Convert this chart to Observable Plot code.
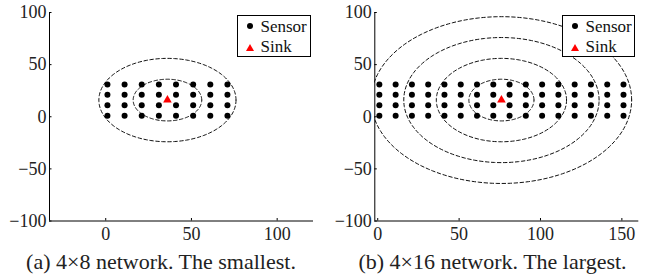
<!DOCTYPE html>
<html>
<head>
<meta charset="utf-8">
<script src="https://cdn.jsdelivr.net/npm/d3@7"></script>
<script src="https://cdn.jsdelivr.net/npm/@observablehq/plot@0.6"></script>
<style>
  html, body { margin: 0; padding: 0; background: #fff; }
  #page { position: relative; width: 649px; height: 274px; overflow: hidden; background: #fff; font-family: "Liberation Serif", "Times New Roman", Times, "DejaVu Serif", serif; }
  .panel { position: absolute; top: 0; }
  .caption { position: absolute; top: 251px; font-size: 22px; line-height: 22px; white-space: nowrap; transform: translateX(-50%); color: #222; }
  .legend { position: absolute; top: 15px; height: 40px; border: 1px solid #000; background: #fff; font-size: 17px; }
  .legend .row { position: absolute; left: 22.5px; line-height: 17px; white-space: nowrap; color: #111; }
  .legend .dot { position: absolute; width: 6px; height: 6px; border-radius: 50%; background: #000; }
  .legend .tri { position: absolute; width: 0; height: 0; border-left: 4px solid transparent; border-right: 4px solid transparent; border-bottom: 7px solid #ff0000; }
</style>
</head>
<body>
<div id="page"></div>
<script>
// ---- data ----
const sensorY = [1, 11, 21, 31];
const sensorXA = [1, 11, 21, 31, 41, 51, 61, 71];
const sensorXB = [1, 11, 21, 31, 41, 51, 61, 71, 81, 91, 101, 111, 121, 131, 141, 151];
const sinkA = [{x: 36, y: 16}];
const sinkB = [{x: 76, y: 16}];
const radiiA = [20, 40];
const radiiB = [20, 40, 60, 80];
const xTicksA = [0, 50, 100];
const xTicksB = [0, 50, 100, 150];
const yTicks = [-100, -50, 0, 50, 100];
const xDomainA = [-32.8, 121.2];
const xDomainB = [-1.8, 160.4];
const yDomain = [-100, 100];
const captionA = "(a) 4×8 network. The smallest.";
const captionB = "(b) 4×16 network. The largest.";
const legendLabels = ["Sensor", "Sink"];

// ---- build tables ----
function grid(xs, ys) {
  const out = [];
  for (const x of xs) for (const y of ys) out.push({x, y});
  return out;
}
function rings(center, radii) {
  const out = [];
  for (const r of radii) {
    for (let a = 0; a <= 360; a += 2) {
      const t = a * Math.PI / 180;
      out.push({r, x: center.x + r * Math.cos(t), y: center.y + r * Math.sin(t)});
    }
  }
  return out;
}
const fmt = d => String(d).replace("-", "−");
const FONT = "'Liberation Serif', 'Times New Roman', Times, 'DejaVu Serif', serif";

function panel({xs, sink, radii, xTicks, xDomain, width, marginLeft, marginRight}) {
  return Plot.plot({
    width, height: 245,
    marginLeft, marginRight, marginTop: 12, marginBottom: 24.5,
    style: {fontFamily: FONT, fontSize: "18px", color: "#222", background: "transparent"},
    x: {domain: xDomain, label: null},
    y: {domain: yDomain, label: null},
    marks: [
      Plot.line(rings(sink[0], radii), {x: "x", y: "y", z: "r", stroke: "#111", strokeWidth: 1, strokeDasharray: "3.5,2.5", clip: true}),
      Plot.dot(grid(xs, sensorY), {x: "x", y: "y", r: 3, fill: "#000", stroke: null}),
      Plot.dot(sink, {x: "x", y: "y", symbol: "triangle", r: 3.2, fill: "#ff0000", stroke: null}),
      Plot.ruleX([xDomain[0]], {stroke: "#000", strokeWidth: 1}),
      Plot.ruleY([yDomain[0]], {stroke: "#000", strokeWidth: 1}),
      Plot.axisX({ticks: xTicks, label: null, tickSize: -2.5, tickPadding: 8.5, stroke: "#000", fill: "#222", tickFormat: fmt}),
      Plot.axisY({ticks: yTicks, label: null, tickSize: -2.5, tickPadding: 5.5, stroke: "#000", fill: "#222", tickFormat: fmt})
    ]
  });
}

const page = document.getElementById("page");

function addPanel(left, opts, caption, capX, legendLeft, legendWidth) {
  const div = document.createElement("div");
  div.className = "panel";
  div.style.left = left + "px";
  div.appendChild(panel(opts));
  page.appendChild(div);

  const cap = document.createElement("div");
  cap.className = "caption";
  cap.style.left = capX + "px";
  cap.textContent = caption;
  page.appendChild(cap);

  const leg = document.createElement("div");
  leg.className = "legend";
  leg.style.left = legendLeft + "px";
  leg.style.width = legendWidth + "px";
  const dot = document.createElement("div");
  dot.className = "dot";
  dot.style.left = "9px"; dot.style.top = "7px";
  leg.appendChild(dot);
  const tri = document.createElement("div");
  tri.className = "tri";
  tri.style.left = "8px"; tri.style.top = "27.5px";
  leg.appendChild(tri);
  legendLabels.forEach((t, i) => {
    const row = document.createElement("div");
    row.className = "row";
    row.style.top = (i === 0 ? 1.5 : 22) + "px";
    row.textContent = t;
    leg.appendChild(row);
  });
  page.appendChild(leg);
}

addPanel(0, {xs: sensorXA, sink: sinkA, radii: radiiA, xTicks: xTicksA, xDomain: xDomainA, width: 325, marginLeft: 49, marginRight: 12},
  captionA, 161, 237, 72);
addPanel(325, {xs: sensorXB, sink: sinkB, radii: radiiB, xTicks: xTicksB, xDomain: xDomainB, width: 324, marginLeft: 49.3, marginRight: 10.7},
  captionB, 492.5, 562, 71);
</script>
</body>
</html>
